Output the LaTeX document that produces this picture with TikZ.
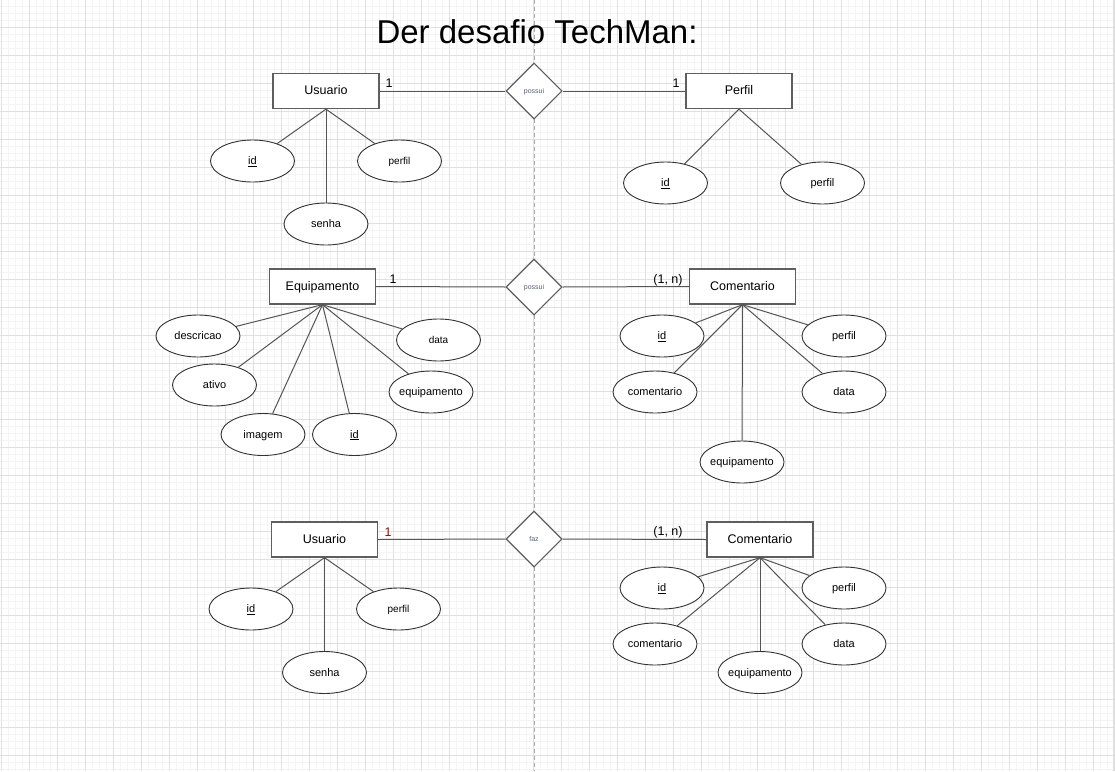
\documentclass[tikz,border=0pt]{standalone}
\usepackage{fontspec}
\setmainfont{Liberation Sans}
\usetikzlibrary{shapes.geometric}
\definecolor{gridmajor}{HTML}{E0E0E0}
\definecolor{gridminor}{HTML}{F4F4F4}
\definecolor{entcol}{HTML}{5E5E5E}
\definecolor{attrcol}{HTML}{333333}
\definecolor{linecol}{HTML}{555555}
\definecolor{relcol}{HTML}{56607A}
\definecolor{dashcol}{HTML}{AAAAAA}
\definecolor{darkred}{HTML}{8B1010}
\begin{document}
\begin{tikzpicture}[x=1pt,y=-1pt,
 entity/.style={draw=entcol, line width=1.3pt, fill=white, minimum width=106pt, minimum height=35pt, inner sep=0pt, text height=10.5pt, text depth=2.6pt, font=\fontsize{12.5}{14}\selectfont},
 attr/.style={ellipse, draw=attrcol, line width=0.9pt, fill=white, minimum width=84pt, minimum height=42pt, inner xsep=-10pt, inner ysep=0pt, text height=9.5pt, text depth=2.3pt, font=\fontsize{11}{13}\selectfont},
 attrsm/.style={attr, font=\fontsize{10}{12}\selectfont},
 rel/.style={diamond, draw=entcol, line width=1.1pt, fill=white, minimum width=56pt, minimum height=56pt, inner sep=0pt, text height=6pt, text depth=1.5pt, font=\fontsize{7}{8}\selectfont, text=relcol},
 link/.style={draw=linecol, line width=1pt},
 card/.style={font=\fontsize{12.5}{14}\selectfont, inner sep=0pt},
 minorgrid/.style={draw=gridminor, line width=0.8pt},
 majorgrid/.style={draw=gridmajor, line width=1pt},
 dashline/.style={draw=dashcol, line width=0.9pt, dash pattern=on 4pt off 3pt},
]
\useasboundingbox (0,0) rectangle (1115,771);
\fill[white] (0,0) rectangle (1115,771);
% grid
\foreach \i in {0,...,159} \draw[minorgrid] ({1+7*\i},0) -- ({1+7*\i},771);
\foreach \j in {0,...,110} \draw[minorgrid] (0,{-0.7+7*\j}) -- (1115,{-0.7+7*\j});
\foreach \i in {0,...,39} \draw[majorgrid] ({1+28*\i},0) -- ({1+28*\i},771);
\foreach \j in {1,...,27} \draw[majorgrid] (0,{-0.7+28*\j}) -- (1115,{-0.7+28*\j});
\fill[gray!25] (1112.5,0) rectangle (1115,771);
% center dashed line
\coordinate (dtop) at (534,0);
\coordinate (dbot) at (534,771);
\draw[dashline] (dtop) -- (dbot);
% title
\node[anchor=base, font=\fontsize{33}{38}\selectfont, inner sep=0pt] (title) at (537,43) {Der desafio TechMan:};

% ---- top row ----
\node[entity] (u1) at (326,91) {Usuario};
\node[rel] (r1) at (534,91) {possui};
\node[entity] (p1) at (739,91) {Perfil};
\node[attr] (u1id) at (252.5,161) {\underline{id}};
\node[attrsm] (u1pf) at (399.5,161) {perfil};
\node[attr] (u1sn) at (326,224) {senha};
\node[attr] (p1id) at (665.5,183) {\underline{id}};
\node[attr] (p1pf) at (822.5,183) {perfil};
\node[card] (c1a) at (389,83) {1};
\node[card] (c1b) at (676,83) {1};
\draw[link] (u1.east) -- (r1.west);
\draw[link] (r1.east) -- (p1.west);
\draw[link] (u1.south) -- (u1id);
\draw[link] (u1.south) -- (u1pf);
\draw[link] (u1.south) -- (u1sn);
\draw[link] (p1.south) -- (p1id);
\draw[link] (p1.south) -- (p1pf);

% ---- middle row ----
\node[entity] (e2) at (322.5,286.5) {Equipamento};
\node[rel] (r2) at (534,287) {possui};
\node[entity] (m2) at (742.5,286.5) {Comentario};
\node[attr] (e2ds) at (198,336) {descricao};
\node[attr] (e2at) at (214.5,385) {ativo};
\node[attr] (e2im) at (263,434.5) {imagem};
\node[attr] (e2id) at (354.5,434.5) {\underline{id}};
\node[attr] (e2eq) at (431,392) {equipamento};
\node[attrsm] (e2dt) at (438.5,340) {data};
\node[attr] (m2id) at (662,336) {\underline{id}};
\node[attr] (m2cm) at (655,392) {comentario};
\node[attr] (m2eq) at (742,462) {equipamento};
\node[attr] (m2pf) at (844,336) {perfil};
\node[attr] (m2dt) at (844,392) {data};
\node[card] (c2a) at (393,279) {1};
\node[card] (c2b) at (668,280) {(1, n)};
\draw[link] (e2.east) -- (r2.west);
\draw[link] (r2.east) -- (m2.west);
\foreach \t in {e2ds,e2at,e2im,e2id,e2eq,e2dt} \draw[link] (e2.south) -- (\t);
\foreach \t in {m2id,m2cm,m2eq,m2pf,m2dt} \draw[link] (m2.south) -- (\t);

% ---- bottom row ----
\node[entity] (u3) at (324.5,539.5) {Usuario};
\node[rel] (r3) at (534,539) {faz};
\node[entity] (m3) at (760,539.5) {Comentario};
\node[attr] (u3id) at (251,609) {\underline{id}};
\node[attrsm] (u3pf) at (398.5,609) {perfil};
\node[attr] (u3sn) at (324.5,672.5) {senha};
\node[attr] (m3id) at (662,588) {\underline{id}};
\node[attr] (m3pf) at (844,588) {perfil};
\node[attr] (m3cm) at (655,644) {comentario};
\node[attr] (m3dt) at (844,644) {data};
\node[attr] (m3eq) at (760,672.5) {equipamento};
\node[card, text=darkred] (c3a) at (388,532) {1};
\node[card] (c3b) at (668,532) {(1, n)};
\draw[link] (u3.east) -- (r3.west);
\draw[link] (r3.east) -- (m3.west);
\foreach \t in {u3id,u3pf,u3sn} \draw[link] (u3.south) -- (\t);
\foreach \t in {m3id,m3pf,m3cm,m3dt,m3eq} \draw[link] (m3.south) -- (\t);
\end{tikzpicture}
\end{document}
